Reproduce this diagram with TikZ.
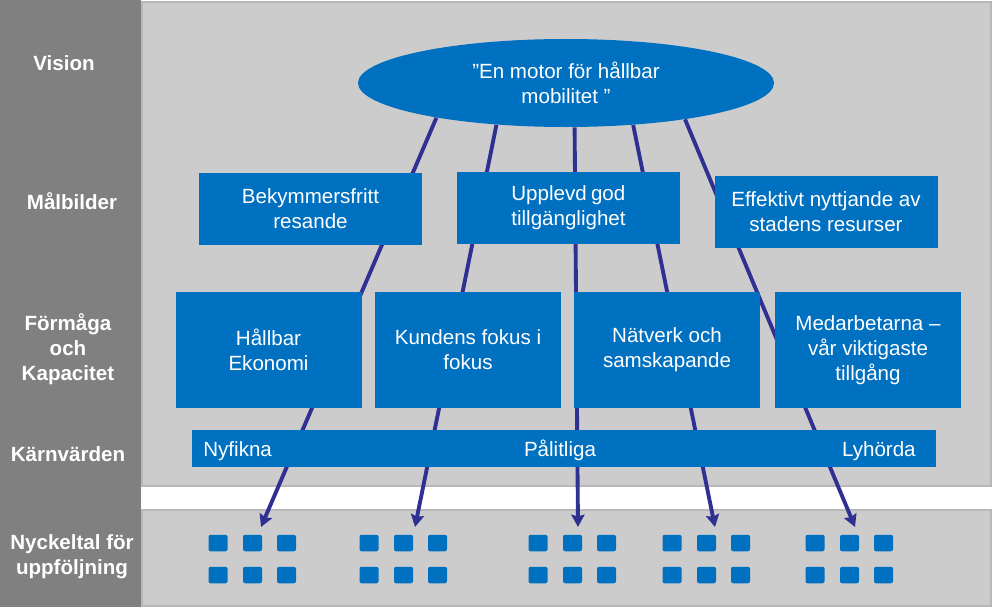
\documentclass[tikz,border=0pt]{standalone}
\usepackage{fontspec}
\setmainfont{Liberation Sans}
\usepackage{tikz}
\usetikzlibrary{arrows.meta}
\usetikzlibrary{shapes.geometric}
\definecolor{boxblue}{HTML}{0070C0}
\definecolor{linkblue}{HTML}{2E3192}
\definecolor{panelgray}{HTML}{CCCCCC}
\definecolor{paneledge}{HTML}{B8B8B8}
\definecolor{sidegray}{HTML}{808080}
\pgfdeclarelayer{panels}
\pgfdeclarelayer{links}
\pgfsetlayers{panels,links,main}
\newcommand{\boxfont}{\fontsize{11.7pt}{14.2pt}\selectfont}
\tikzstyle{level} = [text=white, font=\boxfont\bfseries, align=center]
\tikzstyle{vision} = [ellipse, fill=boxblue, text=white, font=\boxfont, align=center, inner sep=0pt, minimum width=83.2mm, minimum height=17.6mm]
\tikzstyle{goal} = [fill=boxblue, text=white, font=\boxfont, align=center, inner sep=0pt, minimum width=44.6mm, minimum height=14.4mm]
\tikzstyle{ability} = [fill=boxblue, text=white, font=\boxfont, align=center, inner sep=0pt, minimum width=37.2mm, minimum height=23.2mm]
\tikzstyle{value} = [text=white, font=\boxfont, inner sep=0pt]
\tikzstyle{kpi} = [fill=boxblue, inner sep=0pt, minimum width=3.8mm, minimum height=3.3mm, rounded corners=0.4mm]
\tikzstyle{arrow} = [draw=linkblue, line width=2.2pt, -{Stealth[length=7pt,width=7.5pt,inset=1pt]}]

\begin{document}
\begin{tikzpicture}[x=0.2mm, y=-0.2mm]
	\useasboundingbox (0,0) rectangle (993,607);
	\begin{pgfonlayer}{panels}
		\fill[sidegray] (0,0) rectangle (141,607);
		\draw[fill=panelgray, draw=paneledge, line width=0.35mm] (142,2) rectangle (991,486);
		\draw[fill=panelgray, draw=paneledge, line width=0.35mm] (142,510) rectangle (991,606);
	\end{pgfonlayer}

	% rows on the left
	\node[level](lvision) at (64, 63){Vision};
	\node[level](lgoals) at (72, 201){Målbilder};
	\node[level](lability) at (68, 349){Förmåga\\och\\Kapacitet};
	\node[level](lvalues) at (68, 454){Kärnvärden};
	\node[level](lkpi) at (72, 557){Nyckeltal för\\uppföljning};

	\node[vision](vision) at (566, 83){”En motor för hållbar\\mobilitet ”};

	\node[goal](g1) at (310.5, 209){Bekymmersfritt\\resande};
	\node[goal, align=left](g2) at (568.5, 208){\makebox[2.28cm][s]{Upplevd god}\\tillgänglighet};
	\node[goal](g3) at (826, 212){Effektivt nyttjande av\\stadens resurser};

	\node[ability](a1) at (268.5, 350){Hållbar\\Ekonomi};
	\node[ability](a2) at (468, 350){Kundens fokus i\\fokus};
	\node[ability](a3) at (667, 350){Nätverk och\\samskapande};
	\node[ability](a4) at (868, 350){Medarbetarna –\\vår viktigaste\\tillgång};

	\node[fill=boxblue, inner sep=0pt, minimum width=148.8mm, minimum height=7.4mm](values) at (564, 448.5){};
	\node[value, anchor=base west](v1) at (203, 456){Nyfikna};
	\node[value, anchor=base](v2) at (560, 456){Pålitliga};
	\node[value, anchor=base east](v3) at (916, 456){Lyhörda};

	\foreach \g/\x in {1/252.5, 2/403.5, 3/572.5, 4/706.5, 5/849.5}{
		\foreach \c/\dx in {1/-34.5, 2/0, 3/34}{
			\node[kpi](kpi-\g-\c-1) at (\x+\dx, 543){};
			\node[kpi](kpi-\g-\c-2) at (\x+\dx, 575){};
		}
	}

	\coordinate(t1) at (261, 527);
	\coordinate(t2) at (415, 527);
	\coordinate(t3) at (578, 527);
	\coordinate(t4) at (715, 527);
	\coordinate(t5) at (855, 527);
	\begin{pgfonlayer}{links}
		\draw[arrow](vision.195.8) -- (t1);
		\draw[arrow](vision.211.2) -- (t2);
		\draw[arrow](vision.281.8) -- (t3);
		\draw[arrow](vision.328.5) -- (t4);
		\draw[arrow](vision.343.2) -- (t5);
	\end{pgfonlayer}
\end{tikzpicture}
\end{document}
